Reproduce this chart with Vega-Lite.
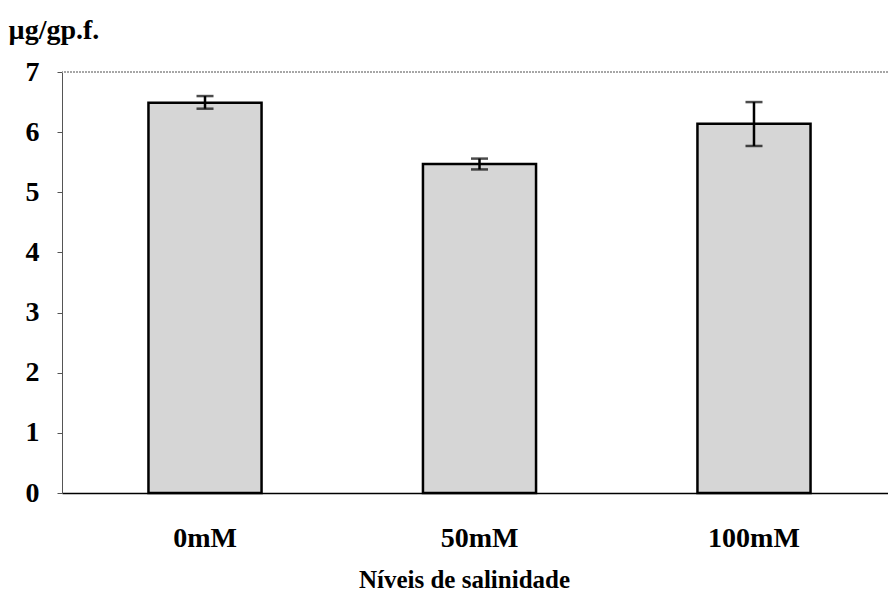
{
  "$schema": "https://vega.github.io/schema/vega-lite/v6.json",
  "width": 835,
  "height": 421,
  "autosize": {"type": "none"},
  "padding": {"left": 62, "top": 72, "right": -9, "bottom": 103},
  "background": "white",
  "config": {
    "view": {"stroke": null},
    "font": "Liberation Serif",
    "axis": {"grid": false, "labelFont": "Liberation Serif", "titleFont": "Liberation Serif", "labelColor": "black", "titleColor": "black"}
  },
  "data": {
    "values": [
      {"nivel": "0mM", "valor": 6.49, "min": 6.39, "max": 6.6},
      {"nivel": "50mM", "valor": 5.47, "min": 5.38, "max": 5.56},
      {"nivel": "100mM", "valor": 6.14, "min": 5.77, "max": 6.5}
    ]
  },
  "encoding": {
    "x": {
      "field": "nivel",
      "type": "nominal",
      "sort": null,
      "scale": {"paddingInner": 0.588, "paddingOuter": 0.315},
      "axis": {
        "title": "Níveis de salinidade",
        "labelAngle": 0,
        "labelFontSize": 28,
        "labelFontWeight": "bold",
        "labelBaseline": "alphabetic",
        "labelPadding": 53,
        "ticks": false,
        "tickSize": 0,
        "domainColor": "black",
        "domainWidth": 1.5,
        "titleFontSize": 25,
        "titleFontWeight": "bold",
        "titleBaseline": "alphabetic",
        "titleY": 94,
        "titleX": 402,
        "titleAnchor": "middle",
        "titleAlign": "center"
      }
    }
  },
  "layer": [
    {
      "mark": {"type": "rule", "stroke": "#9a9a9a", "strokeDash": [2, 1], "strokeWidth": 1},
      "encoding": {"y": {"datum": 7, "type": "quantitative"}, "x": null}
    },
    {
      "mark": {"type": "bar", "fill": "#d6d6d6", "stroke": "black", "strokeWidth": 2.5},
      "encoding": {
        "y": {
          "field": "valor",
          "type": "quantitative",
          "scale": {"domain": [0, 7], "nice": false},
          "axis": {
            "title": "µg/gp.f.",
            "titleAngle": 0,
            "titleFontSize": 28,
            "titleFontWeight": "bold",
            "titleAlign": "left",
            "titleBaseline": "alphabetic",
            "titleX": -54,
            "titleY": -34,
            "values": [0, 1, 2, 3, 4, 5, 6, 7],
            "format": "d",
            "labelFontSize": 28,
            "labelFontWeight": "bold",
            "labelPadding": 18,
            "tickSize": 5,
            "tickColor": "#555555",
            "domainColor": "#555555",
            "domainWidth": 1
          }
        }
      }
    },
    {
      "mark": {"type": "errorbar", "ticks": {"size": 17, "thickness": 2.5, "color": "black"}, "rule": {"strokeWidth": 2.5, "color": "black"}},
      "encoding": {
        "y": {"field": "min", "type": "quantitative", "title": "µg/gp.f."},
        "y2": {"field": "max"}
      }
    }
  ]
}
